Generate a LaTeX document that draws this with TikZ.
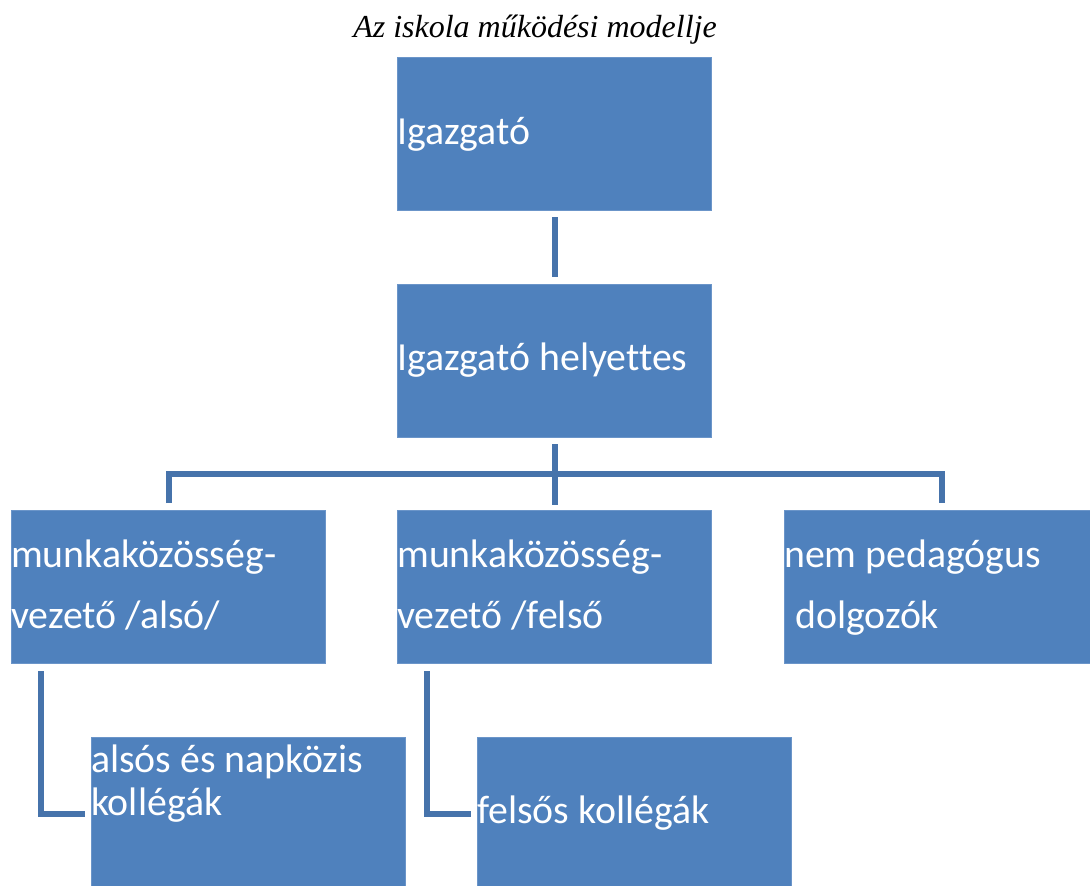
\documentclass[tikz,border=0pt]{standalone}
\usepackage{fontspec}
\setmainfont[Ligatures=NoCommon]{Carlito}
\newfontfamily\titlefont{Liberation Serif}
\usetikzlibrary{calc}
\definecolor{boxfill}{HTML}{4F81BD}
\definecolor{boxedge}{HTML}{6B95C9}
\definecolor{linecol}{HTML}{4673AB}
\begin{document}
\begin{tikzpicture}[x=1pt,y=-1pt,
  box/.style={draw=boxedge, line width=1pt, fill=boxfill, minimum width=314pt, minimum height=153pt, inner sep=0pt, anchor=north west},
  txt/.style={text=white, inner sep=0pt, anchor=base west, font=\fontsize{39.8}{47}\selectfont},
  conn/.style={draw=linecol, line width=6pt}]
\useasboundingbox (0,0) rectangle (1090,886);
\fill[white] (0,0) rectangle (1090,886);
\node[anchor=base, inner sep=0pt, font=\titlefont\itshape\fontsize{32}{38}\selectfont] (title) at (535,37) {Az iskola működési modellje};
% boxes
\node[box] (b1) at (397,57) {};
\node[box] (b2) at (397,284) {};
\node[box] (b3) at (11,510) {};
\node[box] (b4) at (397,510) {};
\node[box] (b5) at (784,510) {};
\node[box] (b6) at (91,737) {};
\node[box] (b7) at (477,737) {};
% texts
\node[txt] (t1) at (397,144) {Igazgató};
\node[txt] (t2) at (397,370) {Igazgató helyettes};
\node[txt] (t3a) at (11,567) {munkaközösség-};
\node[txt] (t3b) at (11,628) {vezető /alsó/};
\node[txt] (t4a) at (397,567) {munkaközösség-};
\node[txt] (t4b) at (397,628) {vezető /felső};
\node[txt] (t5a) at (784,567) {nem pedagógus};
\node[txt] (t5b) at (795,628) {dolgozók};
\node[txt] (t6a) at (91,772) {alsós és napközis};
\node[txt] (t6b) at (91,815) {kollégák};
\node[txt] (t7) at (477,823) {felsős kollégák};
% connectors
\draw[conn] ($(b1.south)+(0,6)$) -- ($(b2.north)+(0,-7)$);
\draw[conn] ($(b2.south)+(0,6)$) -- ($(b4.north)+(0,-5)$);
\draw[conn] ($(b3.north)+(0,-7)$) -- ++(0,-29) -| ($(b5.north)+(0,-7)$);
\draw[conn] ($(b3.south west)+(30,7)$) |- ($(b6.west)+(-6,0)$);
\draw[conn] ($(b4.south west)+(30,7)$) |- ($(b7.west)+(-6,0)$);
\end{tikzpicture}
\end{document}
